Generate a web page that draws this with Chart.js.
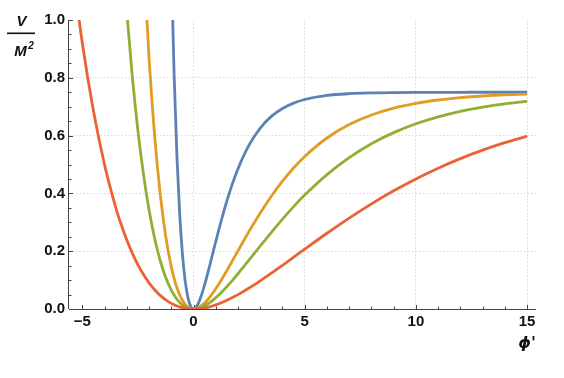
<!DOCTYPE html>
<html lang="en">
<head>
    <meta charset="UTF-8">
    <title>Potential V/M^2</title>
    <script src="https://cdn.jsdelivr.net/npm/chart.js"></script>
    <style>
        html, body { margin: 0; padding: 0; background: #fff; }
        #wrap { width: 564px; height: 378px; }
    </style>
</head>
<body>
    <div id="wrap"><canvas id="potChart" width="564" height="378"></canvas></div>

    <script>
        // field values (x axis)
        const phi = [-5.5, -5, -4.5, -4, -3.5, -3.25, -3, -2.75, -2.5, -2.25, -2, -1.75, -1.5, -1.25, -1,
            -0.875, -0.75, -0.625, -0.5, -0.375, -0.25, -0.125, 0, 0.125, 0.25, 0.375, 0.5, 0.625, 0.75, 0.875,
            1, 1.25, 1.5, 1.75, 2, 2.5, 3, 3.5, 4, 4.5, 5, 6, 7, 8, 9, 10, 11, 12, 13, 14, 15];

        // V/M^2 (null = off the top of the plot)
        const blueV = [null, null, null, null, null, null, null, null, null, null, null, null, null, 2.363, 1.196,
            0.816, 0.535, 0.3325, 0.1906, 0.0962, 0.0384, 0.0087, 0, 0.0071, 0.0256, 0.0522, 0.0842, 0.1198, 0.1573, 0.1955,
            0.2335, 0.3068, 0.374, 0.4337, 0.4856, 0.5678, 0.6261, 0.6664, 0.6938, 0.7124, 0.7249, 0.7389, 0.7451, 0.7478, 0.749, 0.7496, 0.7498, 0.7499, 0.75, 0.75, 0.75];
        const orangeV = [null, null, null, null, null, null, null, null, 1.668, 1.2171, 0.8679, 0.6, 0.3988, 0.2508, 0.1457,
            0.1063, 0.0744, 0.0493, 0.0301, 0.0161, 0.0069, 0.0016, 0, 0.0015, 0.0057, 0.0123, 0.0209, 0.0312, 0.043, 0.0561,
            0.0702, 0.1007, 0.1334, 0.1672, 0.2014, 0.2688, 0.3323, 0.3903, 0.4422, 0.488, 0.5278, 0.5917, 0.6381, 0.6713, 0.695, 0.7116, 0.7232, 0.7314, 0.737, 0.741, 0.7437];
        const greenV = [null, null, null, null, 1.6178, 1.296, 1.0262, 0.8022, 0.617, 0.4654, 0.3428, 0.2448, 0.1678, 0.1089, 0.0651,
            0.0482, 0.0343, 0.023, 0.0142, 0.0078, 0.0033, 0.0008, 0, 0.0008, 0.0029, 0.0064, 0.011, 0.0167, 0.0233, 0.0307,
            0.0388, 0.0571, 0.0773, 0.0992, 0.122, 0.1697, 0.218, 0.2654, 0.311, 0.3541, 0.3942, 0.4652, 0.524, 0.572, 0.6103, 0.641, 0.665, 0.6839, 0.6986, 0.7101, 0.7188];
        const redV = [1.2103, 0.9194, 0.6852, 0.4987, 0.3519, 0.2915, 0.2385, 0.1926, 0.153, 0.1191, 0.0905, 0.0666, 0.0471, 0.0315, 0.0194,
            0.0146, 0.0105, 0.0072, 0.0045, 0.0025, 0.0011, 0.0003, 0, 0.0003, 0.001, 0.0022, 0.0039, 0.0059, 0.0084, 0.0112,
            0.0144, 0.0217, 0.0301, 0.0396, 0.0498, 0.0726, 0.0975, 0.1239, 0.1513, 0.1791, 0.207, 0.2621, 0.3147, 0.3639, 0.4092, 0.4502, 0.4872, 0.5202, 0.5496, 0.5754, 0.598];

        const xTicks = [-5, 0, 5, 10, 15];
        const yTicks = [0, 0.2, 0.4, 0.6, 0.8, 1.0];

        const toPoints = vals => phi.map((x, i) => ({ x: x, y: vals[i] }));

        function makeSet(vals, color, order) {
            return {
                data: toPoints(vals),
                borderColor: color,
                borderWidth: 2.8,
                pointRadius: 0,
                fill: false,
                cubicInterpolationMode: 'monotone',
                spanGaps: false,
                order: order
            };
        }

        const axisColor = '#444';
        const gridColor = '#d9d9d9';

        // axes, inward tick marks and axis titles
        const axesPlugin = {
            id: 'axesPlugin',
            beforeDatasetsDraw(chart) {
                const ctx = chart.ctx;
                const xs = chart.scales.x, ys = chart.scales.y;
                const a = chart.chartArea;
                ctx.save();
                ctx.strokeStyle = axisColor;
                ctx.lineWidth = 1;
                ctx.beginPath();
                ctx.moveTo(a.left, a.bottom + 0.5);
                ctx.lineTo(a.right, a.bottom + 0.5);
                ctx.moveTo(a.left - 0.5, a.top);
                ctx.lineTo(a.left - 0.5, a.bottom);
                ctx.stroke();

                ctx.beginPath();
                for (let v = -5; v <= 15; v++) {
                    const px = Math.round(xs.getPixelForValue(v)) + 0.5;
                    const len = v % 5 === 0 ? 4 : 2.5;
                    ctx.moveTo(px, a.bottom);
                    ctx.lineTo(px, a.bottom - len);
                }
                for (let k = 1; k <= 20; k++) {
                    const py = Math.round(ys.getPixelForValue(k * 0.05)) + 0.5;
                    const len = k % 4 === 0 ? 4 : 2.5;
                    ctx.moveTo(a.left, py);
                    ctx.lineTo(a.left + len, py);
                }
                ctx.stroke();
                ctx.restore();
            },
            afterDraw(chart) {
                const ctx = chart.ctx;
                const a = chart.chartArea;
                ctx.save();
                ctx.fillStyle = '#111';
                ctx.font = 'italic bold 15px "Liberation Sans", Arial, sans-serif';
                ctx.textAlign = 'center';
                ctx.textBaseline = 'alphabetic';
                ctx.fillText('V', 21.5, 25.5);
                ctx.fillRect(7, 32.5, 28, 1.6);
                ctx.fillText('M', 20.5, 55.5);
                ctx.font = 'italic bold 10px "Liberation Sans", Arial, sans-serif';
                ctx.fillText('2', 31, 49);
                ctx.font = 'italic bold 16px "DejaVu Sans", sans-serif';
                ctx.textAlign = 'right';
                ctx.fillText('ϕ\'', a.right, 348);
                ctx.restore();
            }
        };

        new Chart(document.getElementById('potChart'), {
            type: 'line',
            data: {
                datasets: [
                    makeSet(blueV, '#5E81B5', 4),
                    makeSet(orangeV, '#E19C24', 3),
                    makeSet(greenV, '#8FB032', 2),
                    makeSet(redV, '#EB6235', 1)
                ]
            },
            options: {
                responsive: false,
                animation: false,
                layout: { padding: { left: 0, top: 20, right: 28, bottom: 0 } },
                plugins: {
                    legend: { display: false },
                    tooltip: { enabled: false }
                },
                scales: {
                    x: {
                        type: 'linear',
                        min: -5.6,
                        max: 15.4,
                        afterBuildTicks: s => { s.ticks = xTicks.map(v => ({ value: v })); },
                        afterFit: s => { s.height = 69; },
                        grid: {
                            drawTicks: false,
                            lineWidth: 1,
                            color: c => (c.tick && c.tick.value > -5) ? gridColor : 'rgba(0,0,0,0)'
                        },
                        border: { display: false, dash: [1.5, 2] },
                        ticks: {
                            padding: 4,
                            color: '#111',
                            font: { family: '"Liberation Sans", Arial, sans-serif', size: 15, weight: 'bold' },
                            maxRotation: 0,
                            callback: v => String(v).replace('-', '\u2212')
                        }
                    },
                    y: {
                        type: 'linear',
                        min: 0,
                        max: 1,
                        afterBuildTicks: s => { s.ticks = yTicks.map(v => ({ value: v })); },
                        afterFit: s => { s.width = 69; },
                        grid: {
                            drawTicks: false,
                            lineWidth: 1,
                            color: c => (c.tick && c.tick.value > 0.01 && c.tick.value < 0.99) ? gridColor : 'rgba(0,0,0,0)'
                        },
                        border: { display: false, dash: [1.5, 2] },
                        ticks: {
                            padding: 4,
                            color: '#111',
                            font: { family: '"Liberation Sans", Arial, sans-serif', size: 15, weight: 'bold' },
                            callback: v => Number(v).toFixed(1)
                        }
                    }
                }
            },
            plugins: [axesPlugin]
        });
    </script>
</body>
</html>
